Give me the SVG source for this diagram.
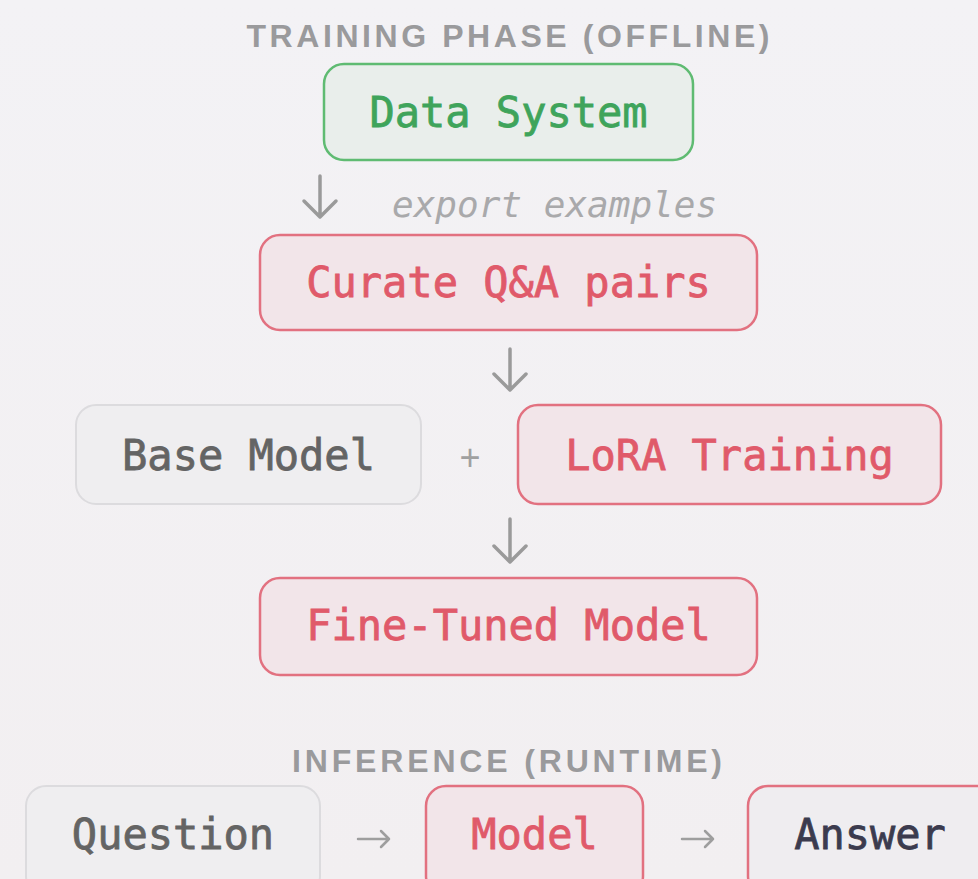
<svg xmlns="http://www.w3.org/2000/svg" width="978" height="879" viewBox="0 0 978 879">
<defs>
<linearGradient id="bg" x1="0" y1="0" x2="0" y2="1">
<stop offset="0" stop-color="#f3f2f5"/>
<stop offset="1" stop-color="#f2eff1"/>
</linearGradient>
<style>
.head{font-family:"Liberation Sans",Arial,sans-serif;font-weight:bold;font-size:32px;fill:#9a9a9c;text-anchor:middle}
.mono{font-family:"DejaVu Sans Mono","Liberation Mono",monospace;font-size:42px;text-anchor:middle;stroke-width:0.8px}
.green rect{fill:#e9eeeb;stroke:#5fbb72;stroke-width:2.5}
.green text{fill:#3fa45b;stroke:#3fa45b}
.red rect{fill:#f2e5e9;stroke:#e27180;stroke-width:2.5}
.red text{fill:#e05a6a;stroke:#e05a6a}
.gray rect{fill:#efeef0;stroke:#dcdbde;stroke-width:2}
.gray text{fill:#646464;stroke:#646464}
.ans rect{fill:#efedf0;stroke:#e27180;stroke-width:2.5}
.ans text{fill:#3b3b4e;stroke:#3b3b4e}
.arr{fill:none;stroke:#9a9a9a;stroke-width:3.5;stroke-linecap:round;stroke-linejoin:round}
.arrs{fill:none;stroke:#9e9e9e;stroke-width:2.5;stroke-linecap:round;stroke-linejoin:round}
.note{font-family:"DejaVu Sans Mono","Liberation Mono",monospace;font-style:italic;font-size:36px;fill:#a9a9ab}
</style>
</defs>
<rect width="978" height="879" fill="url(#bg)"/>

<text class="head" x="508" y="47" textLength="523" lengthAdjust="spacing">TRAINING PHASE (OFFLINE)</text>
<text class="head" x="507" y="772" textLength="430" lengthAdjust="spacing">INFERENCE (RUNTIME)</text>

<g id="data-system" class="green">
<rect x="324" y="64" width="369" height="96" rx="20"/>
<text class="mono" x="508.5" y="127">Data System</text>
</g>

<text class="note" x="392" y="217">export examples</text>

<g id="curate" class="red">
<rect x="260" y="235" width="497" height="95" rx="20"/>
<text class="mono" x="508.5" y="297">Curate Q&amp;A pairs</text>
</g>

<g id="base-model" class="gray">
<rect x="76" y="405" width="345" height="99" rx="20"/>
<text class="mono" x="248.5" y="470">Base Model</text>
</g>

<text x="470" y="470" font-family="Liberation Sans,Arial,sans-serif" font-size="36" fill="#a0a0a0" text-anchor="middle">+</text>

<g id="lora" class="red">
<rect x="518" y="405" width="423" height="99" rx="20"/>
<text class="mono" x="729.5" y="470">LoRA Training</text>
</g>

<g id="fine-tuned" class="red">
<rect x="260" y="578" width="497" height="97" rx="20"/>
<text class="mono" x="508.5" y="640">Fine-Tuned Model</text>
</g>

<g id="question" class="gray">
<rect x="26" y="786" width="294" height="110" rx="20"/>
<text class="mono" x="173" y="849">Question</text>
</g>

<g id="model" class="red">
<rect x="426" y="786" width="217" height="110" rx="20"/>
<text class="mono" x="534.5" y="849">Model</text>
</g>

<g id="answer" class="ans">
<rect x="748" y="786" width="250" height="110" rx="20"/>
<text class="mono" x="870" y="849">Answer</text>
</g>

<g id="connectors">
<path class="arr" d="M320 176 V216 M304 201 L320 217 L336 201"/>
<path class="arr" d="M510 349 V389 M494 374 L510 390 L526 374"/>
<path class="arr" d="M510 519 V561 M494 546 L510 562 L526 546"/>
<path class="arrs" d="M358 839 H389 M381 831 L389 839 L381 847"/>
<path class="arrs" d="M682 839 H713 M705 831 L713 839 L705 847"/>
</g>
</svg>
